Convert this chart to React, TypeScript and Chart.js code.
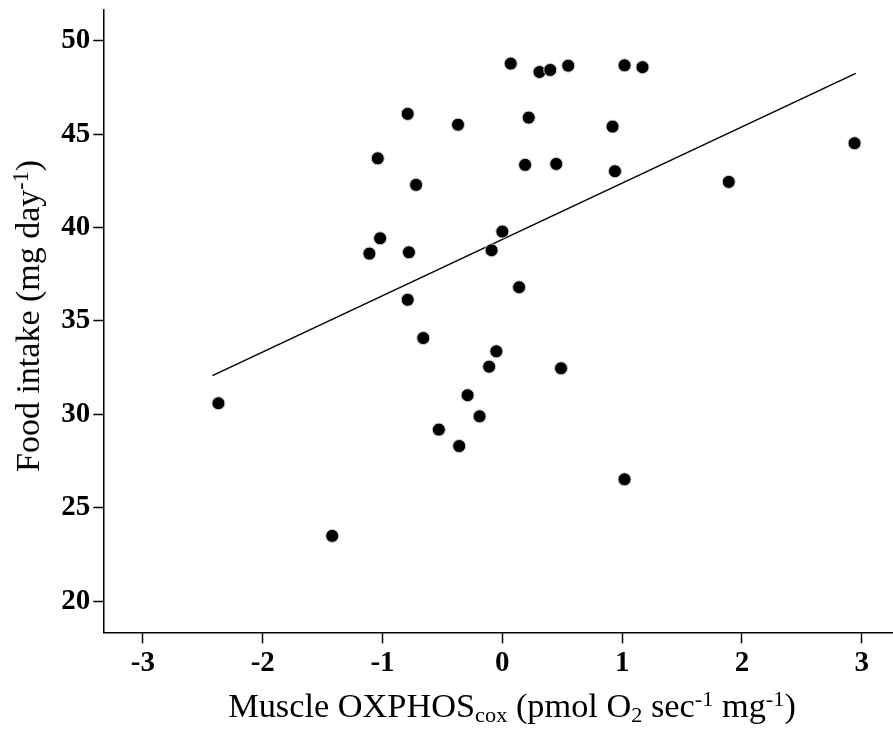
import React, { useEffect, useRef } from "react";
import { Chart, registerables } from "chart.js";

Chart.register(...registerables);

// Muscle OXPHOS_cox (x) and food intake (y) per individual
const oxphos = [
  -2.37, -1.42, -1.11, -1.04, -1.02, -0.79, -0.78, -0.79, -0.72, -0.66,
  -0.53, -0.37, -0.36, -0.29, -0.19, -0.11, -0.09, -0.05, 0.0, 0.07,
  0.14, 0.19, 0.22, 0.31, 0.4, 0.45, 0.49, 0.55, 0.92, 0.94,
  1.02, 1.02, 1.17, 1.89, 2.94,
];
const foodIntake = [
  30.59, 23.49, 38.6, 43.7, 39.42, 46.08, 38.67, 36.13, 42.28, 34.08,
  29.18, 45.5, 28.3, 31.02, 29.89, 32.55, 38.78, 33.37, 39.78, 48.77,
  36.8, 43.35, 45.88, 48.32, 48.43, 43.4, 32.46, 48.66, 45.4, 43.01,
  48.68, 26.52, 48.58, 42.44, 44.51,
];
// regression line end points
const fitX = [-2.42, 2.95];
const fitY = [32.07, 48.25];

const xTicks = [-3, -2, -1, 0, 1, 2, 3];
const yTicks = [20, 25, 30, 35, 40, 45, 50];
const xRange = [-3.331, 3.261];
const yRange = [18.33, 51.64];

const SERIF = "'Liberation Serif', 'Times New Roman', serif";

const noPad = (s: any) => {
  s.paddingTop = 0;
  s.paddingBottom = 0;
  s.paddingLeft = 0;
  s.paddingRight = 0;
};

export default function App() {
  const ref = useRef<HTMLCanvasElement | null>(null);

  useEffect(() => {
    if (!ref.current) return;
    const chart = new Chart(ref.current, {
      type: "scatter",
      data: {
        datasets: [
          {
            label: "points",
            data: oxphos.map((x, i) => ({ x, y: foodIntake[i] })),
            backgroundColor: "#000",
            borderColor: "#d0d0d0",
            borderWidth: 1,
            pointRadius: 6.5,
            showLine: false,
          },
          {
            label: "fit",
            data: fitX.map((x, i) => ({ x, y: fitY[i] })),
            showLine: true,
            borderColor: "#000",
            borderWidth: 1.5,
            pointRadius: 0,
            fill: false,
          },
        ],
      },
      options: {
        animation: false,
        responsive: false,
        layout: { autoPadding: false, padding: { top: 10, left: 0, right: 0, bottom: 0 } },
        plugins: {
          legend: { display: false },
          tooltip: { enabled: false },
          title: { display: false },
        },
        scales: {
          x: {
            type: "linear",
            min: xRange[0],
            max: xRange[1],
            afterBuildTicks: (s: any) => {
              s.ticks = xTicks.map((v) => ({ value: v }));
            },
            afterFit: (s: any) => {
              s.height = 736 - 632.3;
              noPad(s);
            },
            ticks: {
              color: "#000",
              padding: 3,
              font: { family: SERIF, size: 29, weight: "bold" },
              callback: (v: any) => String(v),
            },
            grid: {
              drawOnChartArea: false,
              drawTicks: true,
              tickLength: 11,
              tickColor: "#000",
              tickWidth: 1.5,
              color: "#000",
            },
            border: { display: true, color: "#000", width: 1.5 },
          },
          y: {
            type: "linear",
            min: yRange[0],
            max: yRange[1],
            afterBuildTicks: (s: any) => {
              s.ticks = yTicks.map((v) => ({ value: v }));
            },
            afterFit: (s: any) => {
              s.width = 103.3;
              noPad(s);
            },
            ticks: {
              color: "#000",
              padding: 3,
              font: { family: SERIF, size: 29, weight: "bold" },
              callback: (v: any) => String(v),
            },
            grid: {
              drawOnChartArea: false,
              drawTicks: true,
              tickLength: 10,
              tickColor: "#000",
              tickWidth: 1.5,
              color: "#000",
            },
            border: { display: true, color: "#000", width: 1.5 },
          },
        },
      },
    });
    return () => chart.destroy();
  }, []);

  const titleStyle: React.CSSProperties = {
    position: "absolute",
    fontFamily: SERIF,
    fontSize: 33,
    lineHeight: 1,
    color: "#000",
    whiteSpace: "nowrap",
  };
  const subStyle: React.CSSProperties = { fontSize: "0.65em", verticalAlign: "-0.25em", lineHeight: 0 };
  const supStyle: React.CSSProperties = { fontSize: "0.65em", verticalAlign: "0.5em", lineHeight: 0 };

  return (
    <div style={{ position: "fixed", left: 0, top: 0, width: 893, height: 736, background: "#fff", overflow: "hidden" }}>
      <canvas ref={ref} width={893} height={736} style={{ width: 893, height: 736, display: "block" }} />
      <div style={{ ...titleStyle, left: 512, top: 706, transform: "translate(-50%, -50%) scaleX(1.04)" }}>
        Muscle OXPHOS<span style={subStyle}>cox</span> (pmol O<span style={subStyle}>2</span> sec
        <span style={supStyle}>-1</span> mg<span style={supStyle}>-1</span>)
      </div>
      <div style={{ ...titleStyle, fontSize: 34, left: 28, top: 316, transform: "translate(-50%, -50%) rotate(-90deg)" }}>
        Food intake (mg day<span style={supStyle}>-1</span>)
      </div>
    </div>
  );
}
